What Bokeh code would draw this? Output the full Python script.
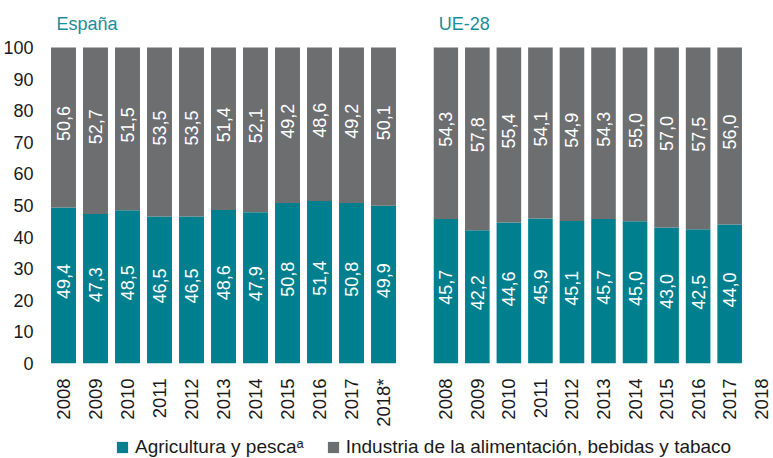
import math
from bokeh.plotting import figure
from bokeh.layouts import column, row
from bokeh.models import (FactorRange, Range1d, FixedTicker, ColumnDataSource,
                          Legend, LegendItem)
from bokeh.core.properties import value
from bokeh.embed import file_html
from bokeh.resources import INLINE

# ---------------- data ----------------
regions = ["España", "UE-28"]
years_esp = ["2008", "2009", "2010", "2011", "2012", "2013", "2014", "2015",
             "2016", "2017", "2018*"]
years_ue = ["2008", "2009", "2010", "2011", "2012", "2013", "2014", "2015",
            "2016", "2017", "2018"]
esp_agri = [49.4, 47.3, 48.5, 46.5, 46.5, 48.6, 47.9, 50.8, 51.4, 50.8, 49.9]
esp_ind = [50.6, 52.7, 51.5, 53.5, 53.5, 51.4, 52.1, 49.2, 48.6, 49.2, 50.1]
ue_agri = [45.7, 42.2, 44.6, 45.9, 45.1, 45.7, 45.0, 43.0, 42.5, 44.0]
ue_ind = [54.3, 57.8, 55.4, 54.1, 54.9, 54.3, 55.0, 57.0, 57.5, 56.0]
y_ticks = [0, 10, 20, 30, 40, 50, 60, 70, 80, 90, 100]
series_names = ["Agricultura y pescaᵃ",
                "Industria de la alimentación, bebidas y tabaco"]

TEAL = "#00808F"
GRAY = "#6D6E70"
TITLE_TEAL = "#1A8D9B"
TXT = "#1a1a1a"
FONT = "Liberation Sans"
Y_END = 114.87


def fmt(v):
    return f"{v:.1f}".replace(".", ",")


def panel(title, years, agri, ind, width, left_border, rpad, show_y):
    xs = years[:len(agri)]
    src = ColumnDataSource(dict(x=xs, agri=agri, ind=ind))
    lab_x, lab_y, lab_t = [], [], []
    for x, a, i in zip(xs, agri, ind):
        lab_x += [x, x]
        lab_y += [a / 2.0, a + i / 2.0]
        lab_t += [fmt(a), fmt(i)]
    lab_src = ColumnDataSource(dict(x=lab_x, y=lab_y, t=lab_t))

    p = figure(width=width, height=435,
               x_range=FactorRange(*years, range_padding=rpad,
                                   range_padding_units="absolute"),
               y_range=Range1d(0, Y_END),
               y_axis_location="left" if show_y else None,
               output_backend="svg", toolbar_location=None,
               min_border_left=left_border, min_border_right=0,
               min_border_top=0, min_border_bottom=72)
    p.outline_line_color = None
    p.xgrid.grid_line_color = None
    p.ygrid.grid_line_color = None

    p.vbar_stack(["agri", "ind"], x="x", width=0.78, color=[TEAL, GRAY],
                 line_color=None, source=src)
    p.text(x="x", y="y", text="t", source=lab_src, angle=math.pi / 2,
           text_align="center", text_baseline="middle", text_color="white",
           text_font=value(FONT), text_font_size="18px", y_offset=-4)
    p.text(x=[years[0]], y=[107.4], text=[title], text_align="left",
           text_baseline="alphabetic", text_color=TITLE_TEAL,
           text_font=value(FONT), text_font_size="18px", x_offset=-7)

    if show_y:
        p.yaxis.ticker = FixedTicker(ticks=y_ticks)
        p.yaxis.axis_line_color = None
        p.yaxis.major_tick_line_color = None
        p.yaxis.minor_tick_line_color = None
        p.yaxis.major_label_text_font = FONT
        p.yaxis.major_label_text_font_size = "18px"
        p.yaxis.major_label_text_color = TXT
        p.yaxis.major_label_standoff = 8

    p.xaxis.axis_line_color = None
    p.xaxis.major_tick_line_color = None
    p.xaxis.major_label_orientation = math.pi / 2
    p.xaxis.major_label_text_font = FONT
    p.xaxis.major_label_text_font_size = "18.5px"
    p.xaxis.major_label_text_color = TXT
    p.xaxis.major_label_standoff = 9
    return p, src


p1, src1 = panel(regions[0], years_esp, esp_agri, esp_ind, 399, 46, 0.0, True)
p2, src2 = panel(regions[1], years_ue, ue_agri, ue_ind, 374, 34, -0.11, False)

# legend strip (legend glyphs come from hidden copies of the series)
pl = figure(width=773, height=23, x_range=FactorRange(*years_esp),
            y_range=Range1d(0, 100),
            x_axis_location=None, y_axis_location=None,
            output_backend="svg", toolbar_location=None,
            min_border_left=0, min_border_right=0,
            min_border_top=0, min_border_bottom=0)
pl.outline_line_color = None
pl.xgrid.grid_line_color = None
pl.ygrid.grid_line_color = None
lrs = pl.vbar_stack(["agri", "ind"], x="x", width=0.78, color=[TEAL, GRAY],
                    line_color=None, source=src1)
for r in lrs:
    r.visible = False
legend = Legend(items=[LegendItem(label=series_names[0], renderers=[lrs[0]]),
                       LegendItem(label=series_names[1], renderers=[lrs[1]])],
                orientation="horizontal", location=(115, 0),
                glyph_width=14, glyph_height=14, label_standoff=6, spacing=22,
                padding=0, margin=0, border_line_color=None,
                background_fill_alpha=0,
                label_text_font=FONT, label_text_font_size="19px",
                label_text_color=TXT)
pl.add_layout(legend, "center")

layout = column(row(p1, p2, spacing=0), pl, spacing=0)
open("out.html", "w").write(file_html(layout, INLINE))
